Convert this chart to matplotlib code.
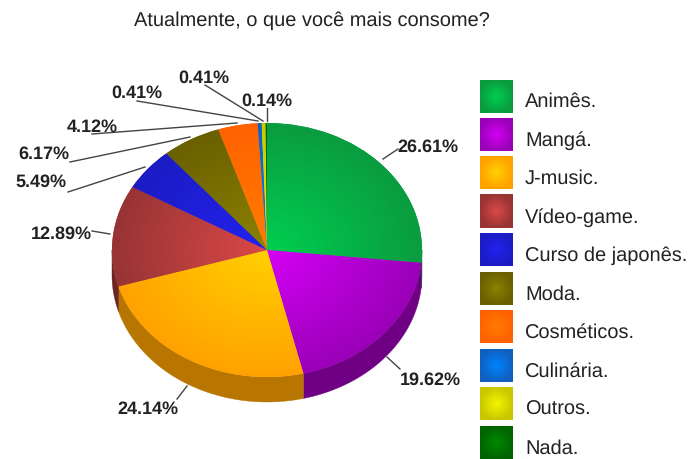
import numpy as np
import matplotlib
matplotlib.use('Agg')
import matplotlib.pyplot as plt
from matplotlib.colors import to_rgb

plt.rcParams['font.family'] = ['Liberation Sans', 'DejaVu Sans']
plt.rcParams['text.hinting'] = 'no_hinting'
plt.rcParams['text.hinting_factor'] = 1

title = 'Atualmente, o que você mais consome?'
categories = ['Animês.', 'Mangá.', 'J-music.', 'Vídeo-game.', 'Curso de japonês.',
              'Moda.', 'Cosméticos.', 'Culinária.', 'Outros.', 'Nada.']
values = [26.61, 19.62, 24.14, 12.89, 5.49, 6.17, 4.12, 0.41, 0.41, 0.14]
inner_colors = ['#00cf50', '#d400f5', '#ffd000', '#dc4848', '#2222f0',
                '#8c8200', '#ff7c00', '#0084ff', '#f4f400', '#008a00']
outer_colors = ['#0a9c40', '#9a00b8', '#ffa200', '#983434', '#1c1cc4',
                '#6a6000', '#ff6200', '#1060c0', '#c8c800', '#006400']

W, H = 695, 460
CX, CY, RX, RY, DEPTH = 267, 251, 155, 127, 25

fig = plt.figure(figsize=(W / 100, H / 100), dpi=100)

# full-figure overlay in pixel units for text, leader lines and legend
bg = fig.add_axes([0, 0, 1, 1])
bg.set_xlim(0, W)
bg.set_ylim(H, 0)
bg.axis('off')


def radial_image(inner, outer, n=200):
    # colour ramp from the middle of the unit square to its rim
    y, x = np.mgrid[-1:1:n * 1j, -1:1:n * 1j]
    r = np.clip(np.hypot(x, y), 0, 1)[..., None]
    return np.array(to_rgb(inner)) * (1 - r) + np.array(to_rgb(outer)) * r


# the pie gets its own axes so that the unit circle becomes an ellipse
pie_ax = fig.add_axes([(CX - RX) / W, 1 - (CY + RY) / H, 2 * RX / W, 2 * RY / H])
pie_ax.set_zorder(2)
wedges, _ = pie_ax.pie(values, colors=outer_colors, startangle=90, counterclock=False, radius=1)
pie_ax.set_aspect('auto')

# extruded rim: only the part of each slice facing downwards is visible
drop = DEPTH / RY
for w, col in zip(wedges, outer_colors):
    lo, hi = max(w.theta1, -180), min(w.theta2, 0)
    if hi <= lo:
        continue
    t = np.radians(np.linspace(lo, hi, 60))
    xs = np.concatenate([np.cos(t), np.cos(t[::-1])])
    ys = np.concatenate([np.sin(t), np.sin(t[::-1]) - drop])
    shade = np.array(to_rgb(col)) * 0.72
    pie_ax.fill(xs, ys, color=shade, lw=0.3, clip_on=False, zorder=0.5)

# top face with a radial sheen, one image per slice
for w, c0, c1 in zip(wedges, inner_colors, outer_colors):
    im = pie_ax.imshow(radial_image(c0, c1), extent=(-1, 1, -1, 1), origin='lower',
                       aspect='auto', zorder=2, interpolation='bilinear')
    im.set_clip_path(w)
pie_ax.set_xlim(-1, 1)
pie_ax.set_ylim(-1, 1)
pie_ax.axis('off')

bg.text(312, 26, title, ha='center', va='baseline', fontsize=14.4, color='#222222')

# percentage labels with their leader lines
label_xy = [(428, 146), (430, 379), (148, 408), (61, 233), (41, 181),
            (44, 153), (92, 126), (137, 92), (204, 77), (267, 100)]
leaders = [((383, 160), (398, 150)), ((387, 358), (400, 370)), ((187, 387), (177, 400)),
           ((110, 235), (92, 232)), ((145, 168), (68, 193)), ((190, 138), (70, 163)),
           ((237, 124), (92, 135)), ((258, 122), (137, 102)), ((263, 122), (205, 86)),
           ((267, 122), (267, 109))]
for v, xy, (a, b) in zip(values, label_xy, leaders):
    bg.text(xy[0], xy[1] + 5.5, f'{v:.2f}%', ha='center', va='baseline', fontsize=12.8,
            fontweight='bold', color='#222222')
    bg.plot([a[0], b[0]], [a[1], b[1]], color='#444444', lw=1.0, zorder=1)

# legend column
for i, (name, c0, c1) in enumerate(zip(categories, inner_colors, outer_colors)):
    yc = 97 + i * 38.5
    bg.imshow(radial_image(c0, c1), extent=(480, 513, yc + 16.5, yc - 16.5), aspect='auto',
              interpolation='bilinear')
    bg.text(525, yc + 10, name, ha='left', va='baseline', fontsize=14.6, color='#222222')
bg.set_xlim(0, W)
bg.set_ylim(H, 0)

fig.savefig('out.png', dpi=100)
